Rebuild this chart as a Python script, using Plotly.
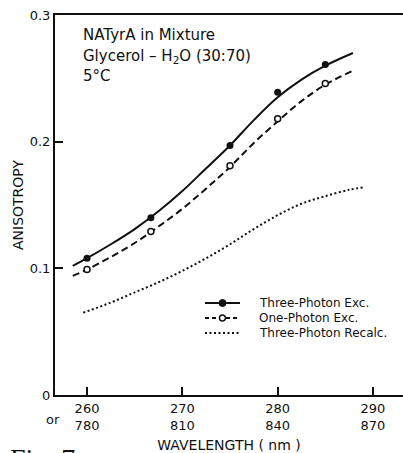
import plotly.graph_objects as go

# Measured anisotropy values (excitation wavelength in nm)
wl_pts = [260, 266.7, 275, 280, 285]
three_photon_pts = [0.108, 0.140, 0.197, 0.239, 0.261]
one_photon_pts = [0.099, 0.129, 0.181, 0.218, 0.246]

# Smooth curves drawn through the measurements
curve_wl = [258.5, 260, 262.5, 265, 267.5, 270, 272.5, 275, 277.5, 280, 282.5, 285, 287.9]
three_photon_fit = [0.102, 0.108, 0.119, 0.131, 0.145, 0.161, 0.179, 0.197, 0.217, 0.235, 0.249, 0.260, 0.270]
one_photon_fit = [0.094, 0.099, 0.109, 0.120, 0.133, 0.147, 0.163, 0.180, 0.199, 0.216, 0.232, 0.245, 0.256]

# Three-photon anisotropy recalculated
recalc_wl = [259.6, 262.5, 265, 267.5, 270, 272.5, 275, 277.5, 280, 282.5, 285, 287.5, 289]
recalc_vals = [0.065, 0.073, 0.081, 0.089, 0.098, 0.108, 0.119, 0.131, 0.142, 0.151, 0.157, 0.162, 0.164]

# Axis ticks: one-photon wavelength with equivalent three-photon wavelength below
x_ticks = [260, 270, 280, 290]
x_tick_text = ["260<br>780", "270<br>810", "280<br>840", "290<br>870"]
y_ticks = [0, 0.1, 0.2, 0.3]
y_tick_text = ["0", "0.1", "0.2", "0.3"]

legend_names = ["Three-Photon Exc.", "One-Photon Exc.", "Three-Photon Recalc."]

FONT = "DejaVu Sans"
BLACK = "#111111"

# plot-area geometry in pixels, used for paper-coordinate placement of decorations
L, T, W, H = 55, 15, 348, 380


def px(x):
    return (x - L) / W


def py(y):
    return (T + H - y) / H


fig = go.Figure()

fig.add_trace(go.Scatter(x=curve_wl, y=three_photon_fit, mode="lines",
                         line=dict(color=BLACK, width=2, shape="spline", smoothing=1),
                         showlegend=False, hoverinfo="skip"))
fig.add_trace(go.Scatter(x=wl_pts, y=three_photon_pts, mode="markers", name=legend_names[0],
                         marker=dict(color=BLACK, size=7, symbol="circle"), showlegend=False))
fig.add_trace(go.Scatter(x=curve_wl, y=one_photon_fit, mode="lines",
                         line=dict(color=BLACK, width=2, dash="7px,4px", shape="spline", smoothing=1),
                         showlegend=False, hoverinfo="skip"))
fig.add_trace(go.Scatter(x=wl_pts, y=one_photon_pts, mode="markers", name=legend_names[1],
                         marker=dict(color="white", size=6, symbol="circle", line=dict(color=BLACK, width=1.5)),
                         showlegend=False))
fig.add_trace(go.Scatter(x=recalc_wl, y=recalc_vals, mode="lines", name=legend_names[2],
                         line=dict(color=BLACK, width=2, dash="2px,2.5px", shape="spline", smoothing=1),
                         showlegend=False))

fig.update_layout(
    width=403, height=453,
    margin=dict(l=L, r=0, t=T, b=453 - T - H),
    paper_bgcolor="white", plot_bgcolor="white",
    font=dict(family=FONT, color=BLACK, size=13),
    showlegend=False,
    xaxis=dict(range=[256.64, 293.15], tickvals=x_ticks, ticktext=x_tick_text,
               ticks="inside", ticklen=8, tickwidth=1.5, tickcolor=BLACK,
               showline=True, linewidth=2, linecolor=BLACK, mirror=True,
               showgrid=False, zeroline=False, tickfont=dict(size=13),
               title=dict(text="WAVELENGTH ( nm )", font=dict(size=14), standoff=10)),
    yaxis=dict(range=[0, 0.3], tickvals=y_ticks, ticktext=y_tick_text,
               ticks="inside", ticklen=8, tickwidth=1.5, tickcolor=BLACK,
               showline=True, linewidth=2, linecolor=BLACK,
               showgrid=False, zeroline=False, tickfont=dict(size=13),
               title=dict(text="ANISOTROPY", font=dict(size=14), standoff=3)),
)

# Key: sample strokes with their markers, and labels
key_rows = [303, 318, 333]
key_x0, key_x1, key_text_x = 205, 240, 258
key_dash = ["solid", "4px,3px", "2px,2.5px"]
for i, (name, yk) in enumerate(zip(legend_names, key_rows)):
    fig.add_shape(type="line", xref="paper", yref="paper", x0=px(key_x0), x1=px(key_x1), y0=py(yk), y1=py(yk),
                  line=dict(color=BLACK, width=2 if i < 2 else 1.8, dash=key_dash[i]))
    fig.add_annotation(text=name, xref="paper", yref="paper", x=px(key_text_x), y=py(yk),
                       xanchor="left", yanchor="middle", showarrow=False, borderpad=0,
                       font=dict(size=12, family=FONT))
cx = (key_x0 + key_x1) / 2
fig.add_shape(type="circle", xref="paper", yref="paper", x0=px(cx - 3.5), x1=px(cx + 3.5),
              y0=py(key_rows[0] + 3.5), y1=py(key_rows[0] - 3.5), fillcolor=BLACK, line=dict(color=BLACK, width=1))
fig.add_shape(type="circle", xref="paper", yref="paper", x0=px(cx - 3), x1=px(cx + 3),
              y0=py(key_rows[1] + 3), y1=py(key_rows[1] - 3), fillcolor="white", line=dict(color=BLACK, width=1.5))

# Sample description
for txt, yp in [("NATyrA in Mixture", 35), ("Glycerol \u2013 H<sub>2</sub>O (30:70)", 56), ("5\u00b0C", 76)]:
    fig.add_annotation(text=txt, xref="paper", yref="paper", x=px(82), y=py(yp),
                       xanchor="left", yanchor="middle", showarrow=False, borderpad=0,
                       font=dict(size=15, family=FONT))

fig.add_annotation(text="or", xref="paper", yref="paper", x=px(53), y=py(419),
                   xanchor="center", yanchor="middle", showarrow=False, font=dict(size=13, family=FONT))

fig.add_annotation(text="Fig. 7", xref="paper", yref="paper", x=px(8), y=py(441),
                   xanchor="left", yanchor="top", showarrow=False,
                   font=dict(size=28, family="Liberation Serif"))

fig.write_html("out.html")
